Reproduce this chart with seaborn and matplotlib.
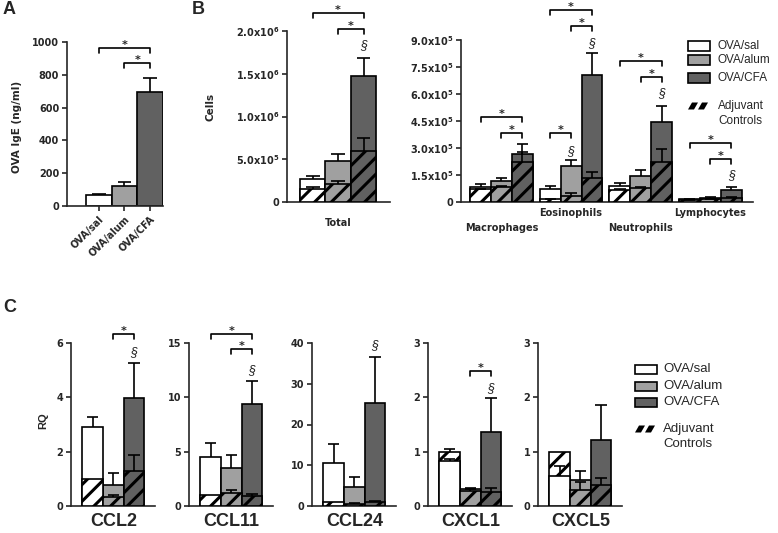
import numpy as np
import pandas as pd
import seaborn as sns
import matplotlib.pyplot as plt
from matplotlib.patches import Rectangle, Polygon

# groups and colours
groups = ['OVA/sal', 'OVA/alum', 'OVA/CFA']
colors = ['#ffffff', '#a0a0a0', '#616161']

# A: OVA IgE (ng/ml)
ige_mean = [70, 125, 695]
ige_sem = [5, 23, 88]

# B: total cells
total_mean = [2.72e5, 4.8e5, 1.47e6]
total_sem = [0.27e5, 0.8e5, 2.2e5]
total_ctrl = [1.55e5, 2.1e5, 6.0e5]
total_ctrl_sem = [0.15e5, 0.4e5, 1.46e5]

# B: cell types
cell_types = ['Macrophages', 'Eosinophils', 'Neutrophils', 'Lymphocytes']
cell_sal = [0.85e5, 0.72e5, 0.91e5, 0.15e5]
cell_sal_sem = [0.14e5, 0.19e5, 0.16e5, 0.02e5]
cell_alum = [1.17e5, 2.02e5, 1.46e5, 0.24e5]
cell_alum_sem = [0.18e5, 0.31e5, 0.32e5, 0.05e5]
cell_cfa = [2.67e5, 7.07e5, 4.42e5, 0.67e5]
cell_cfa_sem = [0.53e5, 1.19e5, 0.92e5, 0.15e5]
ctrl_sal = [0.70e5, 0.15e5, 0.67e5, 0.10e5]
ctrl_sal_sem = [0.05e5, 0.02e5, 0.05e5, 0.01e5]
ctrl_alum = [0.85e5, 0.35e5, 0.76e5, 0.15e5]
ctrl_alum_sem = [0.05e5, 0.17e5, 0.09e5, 0.02e5]
ctrl_cfa = [2.24e5, 1.35e5, 2.20e5, 0.24e5]
ctrl_cfa_sem = [0.52e5, 0.30e5, 0.73e5, 0.03e5]

# C: chemokine RQ
genes = ['CCL2', 'CCL11', 'CCL24', 'CXCL1', 'CXCL5']
rq_sal = [2.91, 4.48, 10.6, 0.83, 0.56]
rq_sal_sem = [0.36, 1.31, 4.7, 0.03, 0.17]
rq_alum = [0.76, 3.52, 4.7, 0.31, 0.47]
rq_alum_sem = [0.46, 1.21, 2.3, 0.03, 0.18]
rq_cfa = [3.99, 9.4, 25.2, 1.37, 1.21]
rq_cfa_sem = [1.28, 2.1, 11.3, 0.62, 0.65]
rq_ctrl_sal = [1.0, 1.03, 1.0, 1.0, 1.0]
rq_ctrl_sal_sem = [0, 0, 0, 0.05, 0]
rq_ctrl_alum = [0.34, 1.18, 0.6, 0.28, 0.29]
rq_ctrl_alum_sem = [0.08, 0.27, 0.2, 0.03, 0.15]
rq_ctrl_cfa = [1.27, 0.94, 1.1, 0.26, 0.38]
rq_ctrl_cfa_sem = [0.62, 0.15, 0.2, 0.07, 0.14]
rq_top = [6, 15, 40, 3, 3]
rq_step = [2, 5, 10, 1, 1]

sns.set_style('ticks')
plt.rcParams['font.family'] = ['DejaVu Sans']
plt.rcParams['hatch.linewidth'] = 2.2
plt.rcParams['axes.linewidth'] = 1.2

W, H = 778, 533
fig = plt.figure(figsize=(W / 100, H / 100), dpi=100)

TICKFONT = dict(family='DejaVu Sans', weight='bold', size=7)
ARIAL = 'Liberation Sans'


def add_ax(l, r, t, b):
    return fig.add_axes([l / W, 1 - b / H, (r - l) / W, (b - t) / H])


def style_ax(ax):
    sns.despine(ax=ax)
    ax.set_xlabel('')
    ax.set_ylabel('')
    ax.tick_params(axis='y', length=3.6, width=1.2, pad=2)
    for lbl in ax.get_yticklabels():
        lbl.set_fontproperties(TICKFONT)


def centers(ax, patches):
    return [p.get_x() + p.get_width() / 2 for p in patches]


def err_bars(ax, patches, sems):
    for p, s in zip(patches, sems):
        if s <= 0:
            continue
        xc = p.get_x() + p.get_width() / 2
        top = p.get_height()
        cw = p.get_width() * 0.27
        ax.vlines(xc, top, top + s, color='black', lw=1.2, zorder=6)
        ax.hlines(top + s, xc - cw, xc + cw, color='black', lw=1.2, zorder=6)


def grouped_bars(ax, cats, means, sems, ctrls, ctrl_sems, width=1.0):
    def frame(vals):
        rows = []
        for g, v in zip(groups, vals):
            for c, x in zip(cats, v):
                rows.append((c, g, x))
        return pd.DataFrame(rows, columns=['cat', 'grp', 'val'])

    kw = dict(x='cat', y='val', hue='grp', order=cats, hue_order=groups,
              palette=colors, saturation=1, width=width, edgecolor='black',
              linewidth=1.2, errorbar=None, legend=False, ax=ax)
    sns.barplot(data=frame(means), **kw)
    n1 = len(ax.patches)
    sns.barplot(data=frame(ctrls), **kw)
    key = lambda p: p.get_x() + p.get_width() / 2
    main = sorted(ax.patches[:n1], key=key)
    ctrl = sorted(ax.patches[n1:], key=key)
    for m, c in zip(main, ctrl):
        c.set_hatch('//')
        if m.get_height() >= c.get_height():
            m.set_zorder(2)
            c.set_zorder(3)
        else:
            c.set_zorder(2)
            m.set_zorder(3)
    # sems in category-major order
    order = lambda s: [s[g][i] for i in range(len(cats)) for g in range(3)]
    err_bars(ax, main, order(sems))
    err_bars(ax, ctrl, order(ctrl_sems))
    return centers(ax, main)


def bracket(ax, xs, i, j, y, h, txt='*'):
    ax.plot([xs[i], xs[i], xs[j], xs[j]], [y - h, y, y, y - h],
            color='black', lw=1.2, clip_on=False, zorder=7)
    ax.annotate(txt, ((xs[i] + xs[j]) / 2, y), xytext=(0, -1.5),
                textcoords='offset points', ha='center', va='bottom',
                fontsize=8, fontweight='bold', annotation_clip=False)


def section(ax, x, y):
    ax.text(x, y, '§', ha='center', va='center', fontsize=9,
            family=ARIAL, style='italic', clip_on=False)


def legend(x0, ys, yadj, fs, gap):
    for g, c, y in zip(groups, colors, ys):
        fig.add_artist(Rectangle((x0 / W, 1 - (y + 4.5) / H), 22 / W, 9 / H,
                                 transform=fig.transFigure, facecolor=c,
                                 edgecolor='black', lw=1.2))
        fig.text((x0 + 22 + gap) / W, 1 - y / H, g, va='center', ha='left',
                 fontsize=fs, family=ARIAL)
    # hatched key: two slanted strokes
    y = yadj[0]
    for s in (0, 10):
        pts = [(x0 + s, y + 3.5), (x0 + s + 6, y + 3.5),
               (x0 + s + 10, y - 3.5), (x0 + s + 4, y - 3.5)]
        fig.add_artist(Polygon([(px / W, 1 - py / H) for px, py in pts],
                               closed=True, transform=fig.transFigure,
                               facecolor='black', edgecolor='none'))
    fig.text((x0 + 22 + gap) / W, 1 - yadj[0] / H, 'Adjuvant', va='center',
             fontsize=fs, family=ARIAL)
    fig.text((x0 + 22 + gap) / W, 1 - yadj[1] / H, 'Controls', va='center',
             fontsize=fs, family=ARIAL)


# ---------------- Panel A ----------------
axA = add_ax(67, 163, 42, 206)
dfA = pd.DataFrame({'grp': groups, 'val': ige_mean})
sns.barplot(data=dfA, x='grp', y='val', hue='grp', palette=colors, saturation=1,
            width=1.0, edgecolor='black', linewidth=1.2, errorbar=None,
            legend=False, ax=axA)
pa = sorted(axA.patches, key=lambda p: p.get_x())
err_bars(axA, pa, ige_sem)
xa = centers(axA, pa)
axA.set_ylim(0, 1000)
axA.set_yticks(range(0, 1001, 200))
axA.set_xlim(-1.24, 2.5)
style_ax(axA)
axA.tick_params(axis='x', length=3.6, width=1.2, pad=2)
axA.set_xticks(range(3))
axA.set_xticklabels(groups, rotation=45, ha='right', rotation_mode='anchor',
                    fontproperties=TICKFONT)
bracket(axA, xa, 0, 2, 963, 30)
bracket(axA, xa, 1, 2, 872, 30)
fig.text(17 / W, 1 - 127 / H, 'OVA IgE (ng/ml)', rotation=90, ha='center',
         va='center', fontsize=7.5, fontweight='bold')

# ---------------- Panel B total ----------------
axT = add_ax(287, 390, 31, 202)
xt = grouped_bars(axT, ['Total'], [[v] for v in total_mean],
                  [[v] for v in total_sem], [[v] for v in total_ctrl],
                  [[v] for v in total_ctrl_sem])
axT.set_ylim(0, 2e6)
axT.set_xlim(-0.67, 0.68)
axT.set_yticks([0, 5e5, 1e6, 1.5e6, 2e6])
axT.set_yticklabels(['0', r'5.0x10$^{\mathbf{5}}$', r'1.0x10$^{\mathbf{6}}$',
                     r'1.5x10$^{\mathbf{6}}$', r'2.0x10$^{\mathbf{6}}$'])
style_ax(axT)
axT.tick_params(axis='x', length=0, pad=11.5)
for lbl in axT.get_xticklabels():
    lbl.set_fontproperties(TICKFONT)
bracket(axT, xt, 0, 2, 2.21e6, 0.06e6)
bracket(axT, xt, 1, 2, 2.02e6, 0.06e6)
section(axT, xt[2], 1.84e6)
fig.text(210 / W, 1 - 107 / H, 'Cells', rotation=90, ha='center',
         va='center', fontsize=7.5, fontweight='bold')

# ---------------- Panel B cell types ----------------
axC = add_ax(461, 753, 40, 202)
xc = grouped_bars(axC, cell_types, [cell_sal, cell_alum, cell_cfa],
                  [cell_sal_sem, cell_alum_sem, cell_cfa_sem],
                  [ctrl_sal, ctrl_alum, ctrl_cfa],
                  [ctrl_sal_sem, ctrl_alum_sem, ctrl_cfa_sem], width=0.9)
axC.set_ylim(0, 9e5)
axC.set_xlim(-0.58, 3.61)
axC.set_yticks(np.arange(0, 9.01e5, 1.5e5))
axC.set_yticklabels(['0'] + [r'%.1fx10$^{\mathbf{5}}$' % v
                             for v in [1.5, 3.0, 4.5, 6.0, 7.5, 9.0]])
style_ax(axC)
axC.tick_params(axis='x', length=0, labelbottom=False)
for i, name in enumerate(cell_types):
    axC.text(i, -0.068 if i % 2 else -0.16, name, ha='center', va='center',
             transform=axC.get_xaxis_transform(), fontproperties=TICKFONT)
h = 0.28e5
bracket(axC, xc, 0, 2, 4.72e5, h)
bracket(axC, xc, 1, 2, 3.83e5, h)
bracket(axC, xc, 3, 5, 10.67e5, h)
bracket(axC, xc, 4, 5, 9.78e5, h)
bracket(axC, xc, 3, 4, 3.83e5, h)
section(axC, xc[4], 2.83e5)
section(axC, xc[5], 8.83e5)
bracket(axC, xc, 6, 8, 7.83e5, h)
bracket(axC, xc, 7, 8, 6.94e5, h)
section(axC, xc[8], 6.06e5)
bracket(axC, xc, 9, 11, 3.28e5, h)
bracket(axC, xc, 10, 11, 2.39e5, h)
section(axC, xc[11], 1.5e5)
legend(688, [46, 60, 78], [106, 121], 8.5, 8)

# ---------------- Panel C ----------------
c_lefts = [71, 189, 312, 428, 538]
c_brackets = {0: [(1, 2, 6.33)], 1: [(0, 2, 15.8), (1, 2, 14.45)],
              3: [(1, 2, 2.48)]}
c_section = {0: 5.67, 1: 12.5, 2: 39.5, 3: 2.17}
for k, gene in enumerate(genes):
    ax = add_ax(c_lefts[k], c_lefts[k] + 84, 343, 506)
    xs = grouped_bars(ax, [gene], [[rq_sal[k]], [rq_alum[k]], [rq_cfa[k]]],
                      [[rq_sal_sem[k]], [rq_alum_sem[k]], [rq_cfa_sem[k]]],
                      [[rq_ctrl_sal[k]], [rq_ctrl_alum[k]], [rq_ctrl_cfa[k]]],
                      [[rq_ctrl_sal_sem[k]], [rq_ctrl_alum_sem[k]],
                       [rq_ctrl_cfa_sem[k]]])
    ax.set_ylim(0, rq_top[k])
    ax.set_yticks(np.arange(0, rq_top[k] + 0.01, rq_step[k]))
    ax.set_xlim(-0.68, 0.67)
    style_ax(ax)
    ax.tick_params(axis='x', length=0, pad=5)
    for lbl in ax.get_xticklabels():
        lbl.set_fontproperties(dict(family=ARIAL, weight='bold', size=13))
    hh = rq_top[k] * 0.031
    for i, j, y in c_brackets.get(k, []):
        bracket(ax, xs, i, j, y, hh)
    if k in c_section:
        section(ax, xs[2], c_section[k])

fig.text(43 / W, 1 - 421 / H, 'RQ', rotation=90, ha='center', va='center',
         fontsize=8, fontweight='bold', family=ARIAL)
legend(635, [369, 386, 402], [429, 444], 9.5, 6)

# panel letters
for letter, x, y in [('A', 3, 10), ('B', 192, 9), ('C', 3, 307)]:
    fig.text(x / W, 1 - y / H, letter, ha='left', va='center', fontsize=13,
             fontweight='bold', family=ARIAL)

fig.savefig('out.png', dpi=100)
